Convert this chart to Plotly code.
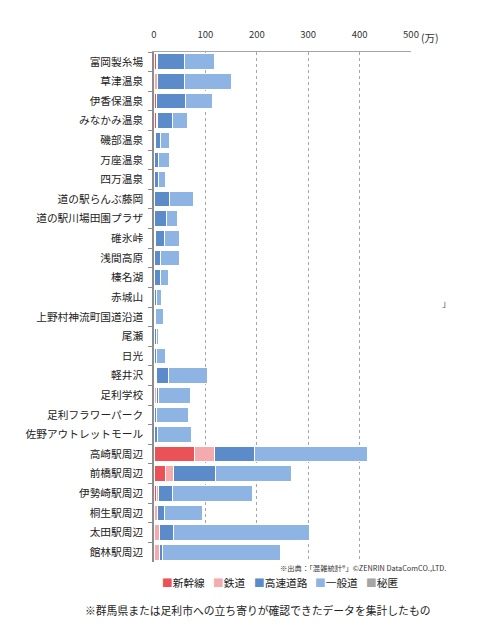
import plotly.graph_objects as go

categories = ["富岡製糸場", "草津温泉", "伊香保温泉", "みなかみ温泉", "磯部温泉", "万座温泉", "四万温泉",
              "道の駅らんぶ藤岡", "道の駅川場田園プラザ", "碓氷峠", "浅間高原", "榛名湖", "赤城山",
              "上野村神流町国道沿道", "尾瀬", "日光", "軽井沢", "足利学校", "足利フラワーパーク",
              "佐野アウトレットモール", "高崎駅周辺", "前橋駅周辺", "伊勢崎駅周辺", "桐生駅周辺",
              "太田駅周辺", "館林駅周辺"]
shinkansen = [4, 1, 4, 5, 0, 0, 0, 0, 0, 0, 0, 0, 0, 0, 0, 0, 2, 0, 0, 0, 79, 23, 4, 0, 0, 0]
tetsudo    = [2, 5, 1, 1, 2, 0, 1, 1, 0, 2, 0, 0, 0, 0, 1, 0, 2, 5, 1, 0, 39, 15, 4, 6, 11, 11]
kosoku     = [53, 53, 56, 30, 10, 9, 8, 29, 24, 18, 13, 13, 5, 3, 3, 4, 24, 3, 3, 6, 77, 81, 28, 15, 27, 6]
ippan      = [58, 92, 52, 29, 18, 21, 13, 46, 21, 29, 37, 15, 10, 16, 5, 19, 77, 63, 64, 67, 220, 148, 156, 74, 265, 230]
hitoku     = [0] * 26
series_names = ["新幹線", "鉄道", "高速道路", "一般道", "秘匿"]
x_ticks = [0, 100, 200, 300, 400, 500]

colors = ["#EB5257", "#F5AAAD", "#5B8BC8", "#8EB4E3", "#A5A5A5"]
FONT = "Noto Sans CJK JP"

# page offset (browser body margin) and target plot area in screen pixels
OFF = 8
PX0, PX1, PY0, PY1 = 154, 411, 52, 562
W, H = 482 - 2 * OFF, 636 - 2 * OFF


def px(sx):
    return (sx - PX0) / (PX1 - PX0)


def py(sy):
    return 1 - (sy - PY0) / (PY1 - PY0)


fig = go.Figure()
for name, vals, col in zip(series_names, [shinkansen, tetsudo, kosoku, ippan, hitoku], colors):
    fig.add_trace(go.Bar(
        y=categories, x=vals, name=name, orientation="h",
        marker=dict(color=col, line=dict(color="white", width=1)),
        showlegend=False,
    ))

fig.update_layout(
    barmode="stack",
    bargap=0.2,
    width=W, height=H,
    margin=dict(l=PX0 - OFF, r=W - (PX1 - OFF), t=PY0 - OFF, b=H - (PY1 - OFF), autoexpand=False),
    paper_bgcolor="white", plot_bgcolor="white",
    font=dict(family=FONT, color="#333333"),
    xaxis=dict(
        side="top", range=[0, 500], tickvals=x_ticks,
        showgrid=True, gridcolor="#A6A6A6", griddash="dot", gridwidth=1,
        showline=True, linecolor="#A6A6A6", linewidth=1,
        ticks="", tickfont=dict(size=9.5, color="#333333"),
        ticklabelstandoff=9, zeroline=False,
    ),
    yaxis=dict(
        autorange="reversed", showline=True, linecolor="#8C8C8C", linewidth=1.5,
        ticks="outside", ticklen=4, tickcolor="#8C8C8C", tickson="boundaries",
        tickfont=dict(size=10.7, color="#222222"), showgrid=False,
        ticklabelstandoff=7,
    ),
)

ann = []
ann.append(dict(x=px(430), y=py(37), xref="paper", yref="paper", xanchor="center", yanchor="middle",
                text="(万)", showarrow=False, font=dict(size=10.5, color="#333333")))
ann.append(dict(x=px(448), y=py(568), xref="paper", yref="paper", xanchor="right", yanchor="middle",
                text="※出典：「混雑統計®」©ZENRIN DataComCO.,LTD.", showarrow=False,
                font=dict(size=7.3, color="#333333")))
leg_x = [160, 211, 252, 313, 364]
for name, col, lx in zip(series_names, colors, leg_x):
    ann.append(dict(x=px(lx), y=py(582), xref="paper", yref="paper", xanchor="left", yanchor="middle",
                    text=f"<span style='color:{col}'>■</span>{name}", showarrow=False,
                    font=dict(size=10.7, color="#222222")))
ann.append(dict(x=px(258), y=py(610), xref="paper", yref="paper", xanchor="center", yanchor="middle",
                text="※群馬県または足利市への立ち寄りが確認できたデータを集計したもの", showarrow=False,
                font=dict(size=10.8, color="#222222")))
ann.append(dict(x=px(446), y=py(303), xref="paper", yref="paper", xanchor="center", yanchor="middle",
                text="」", showarrow=False, font=dict(size=9, color="#555555")))
fig.update_layout(annotations=ann)

fig.write_html("out.html")
